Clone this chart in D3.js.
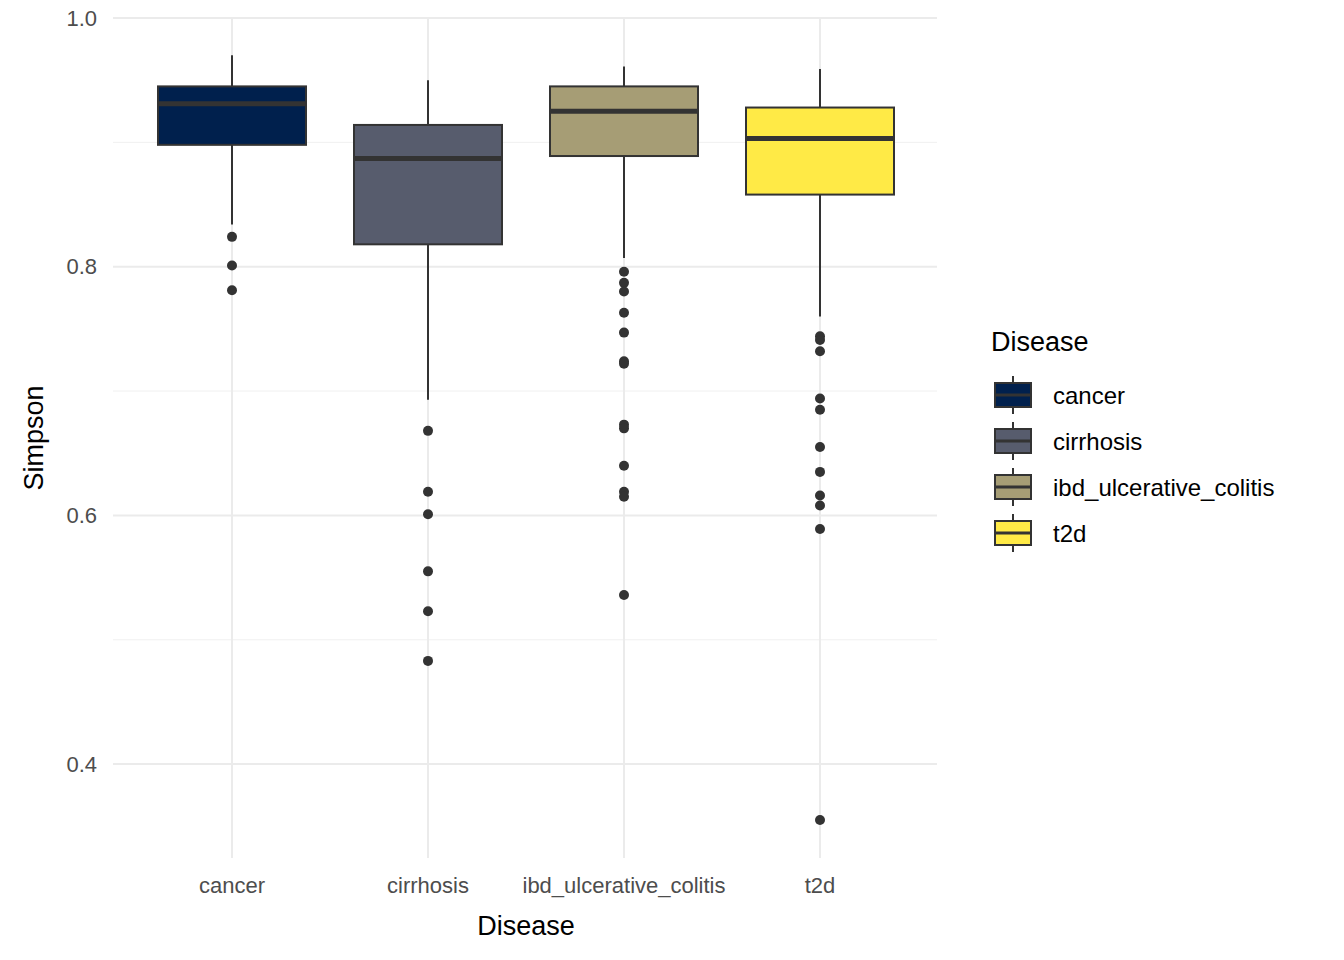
<!DOCTYPE html>
<html><head><meta charset="utf-8">
<script src="https://cdn.jsdelivr.net/npm/d3@7"></script>
<style>body{margin:0;background:#fff;font-family:Arial,"Liberation Sans",sans-serif}</style>
</head><body>
<script>
var diseases = ['cancer', 'cirrhosis', 'ibd_ulcerative_colitis', 't2d'];
var colors = ['#00204D', '#575C6D', '#A69D75', '#FFEA46'];
// [lower whisker, Q1, median, Q3, upper whisker]
var stats = [
  [0.834, 0.898, 0.931, 0.945, 0.970],
  [0.693, 0.818, 0.887, 0.914, 0.950],
  [0.807, 0.889, 0.925, 0.945, 0.961],
  [0.760, 0.858, 0.903, 0.928, 0.959]
];
var outliers = [
  [0.824, 0.801, 0.781],
  [0.668, 0.619, 0.601, 0.555, 0.523, 0.483],
  [0.796, 0.787, 0.780, 0.763, 0.747, 0.724, 0.722, 0.673, 0.670, 0.640, 0.619, 0.615, 0.536],
  [0.744, 0.741, 0.732, 0.694, 0.685, 0.655, 0.635, 0.616, 0.608, 0.589, 0.355]
];
var yTicks = [0.4, 0.6, 0.8, 1.0];
var yMinor = [0.5, 0.7, 0.9];

var svg = d3.select('body').append('svg').attr('width', 1344).attr('height', 960);
var x = d3.scaleBand().domain(diseases).range([134, 918]).padding(0);
var y = d3.scaleLinear().domain([0.3245, 1.0]).range([858, 18]);
var bw = 148;

svg.selectAll('.minor').data(yMinor).enter().append('line')
  .attr('x1', 113).attr('x2', 937).attr('y1', d => y(d)).attr('y2', d => y(d))
  .attr('stroke', '#f0f0f0').attr('stroke-width', 1);
svg.selectAll('.major').data(yTicks).enter().append('line')
  .attr('x1', 113).attr('x2', 937).attr('y1', d => y(d)).attr('y2', d => y(d))
  .attr('stroke', '#ebebeb').attr('stroke-width', 2);
svg.selectAll('.vgrid').data(diseases).enter().append('line')
  .attr('x1', d => x(d) + x.bandwidth() / 2).attr('x2', d => x(d) + x.bandwidth() / 2)
  .attr('y1', 858).attr('y2', 18).attr('stroke', '#ebebeb').attr('stroke-width', 2);

var g = svg.selectAll('.box').data(diseases).enter().append('g')
  .attr('transform', d => 'translate(' + (x(d) + x.bandwidth() / 2) + ',0)');
g.append('line').attr('y1', (d, i) => y(stats[i][0])).attr('y2', (d, i) => y(stats[i][4]))
  .attr('stroke', '#333').attr('stroke-width', 2);
g.append('rect').attr('x', -bw / 2).attr('width', bw)
  .attr('y', (d, i) => y(stats[i][3])).attr('height', (d, i) => y(stats[i][1]) - y(stats[i][3]))
  .attr('fill', (d, i) => colors[i]).attr('stroke', '#333').attr('stroke-width', 2);
g.append('line').attr('x1', -bw / 2).attr('x2', bw / 2)
  .attr('y1', (d, i) => y(stats[i][2])).attr('y2', (d, i) => y(stats[i][2]))
  .attr('stroke', '#333').attr('stroke-width', 5);
g.each(function(d, i) {
  d3.select(this).selectAll('circle').data(outliers[i]).enter().append('circle')
    .attr('cy', v => y(v)).attr('r', 5).attr('fill', '#333');
});

var yAxis = svg.append('g').attr('transform', 'translate(100,0)')
  .call(d3.axisLeft(y).tickValues(yTicks).tickFormat(d3.format('.1f')).tickSize(0));
yAxis.select('.domain').remove();
yAxis.selectAll('text').attr('font-size', 22).attr('fill', '#4d4d4d').attr('font-family', 'Arial,"Liberation Sans",sans-serif');

var xAxis = svg.append('g').attr('transform', 'translate(0,868)')
  .call(d3.axisBottom(x).tickSize(0));
xAxis.select('.domain').remove();
xAxis.selectAll('text').attr('font-size', 22).attr('fill', '#4d4d4d').attr('dy', '1em').attr('font-family', 'Arial,"Liberation Sans",sans-serif');

svg.append('text').attr('x', 526).attr('y', 935).attr('text-anchor', 'middle')
  .attr('font-size', 27).text('Disease');
svg.append('text').attr('transform', 'translate(43,438) rotate(-90)').attr('text-anchor', 'middle')
  .attr('font-size', 27).text('Simpson');

var lg = svg.append('g');
lg.append('text').attr('x', 991).attr('y', 351).attr('font-size', 27).text('Disease');
var items = lg.selectAll('.item').data(diseases).enter().append('g')
  .attr('transform', (d, i) => 'translate(0,' + (395 + i * 46) + ')');
items.append('line').attr('x1', 1013).attr('x2', 1013).attr('y1', -19).attr('y2', 19)
  .attr('stroke', '#333').attr('stroke-width', 2);
items.append('rect').attr('x', 995).attr('y', -12).attr('width', 36).attr('height', 24)
  .attr('fill', (d, i) => colors[i]).attr('stroke', '#333').attr('stroke-width', 2);
items.append('line').attr('x1', 995).attr('x2', 1031).attr('y1', 0).attr('y2', 0)
  .attr('stroke', '#333').attr('stroke-width', 3);
items.append('text').attr('x', 1053).attr('y', 9).attr('font-size', 24).text(d => d);
</script>
</body></html>
